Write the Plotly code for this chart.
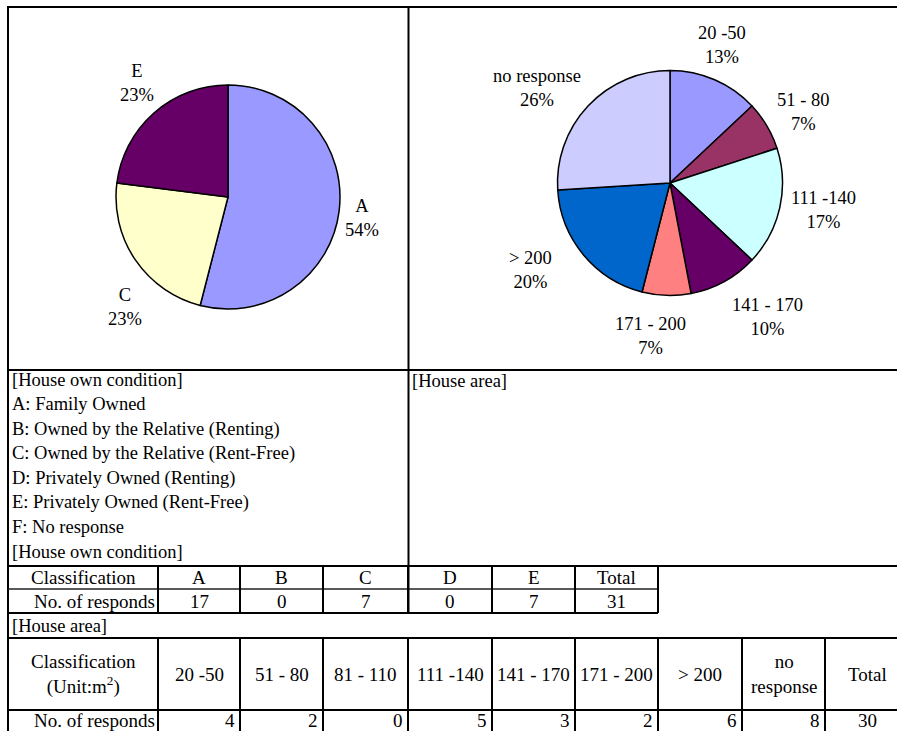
import plotly.graph_objects as go

# ---------------- data ----------------
own_classes = ["A", "B", "C", "D", "E"]
own_counts = [17, 0, 7, 0, 7]
own_total = 31
own_pct = [54, 0, 23, 0, 23]

legend_letters = ["A", "B", "C", "D", "E", "F"]
legend_desc = [
    "Family Owned",
    "Owned by the Relative (Renting)",
    "Owned by the Relative (Rent-Free)",
    "Privately Owned (Renting)",
    "Privately Owned (Rent-Free)",
    "No response",
]

area_classes = ["20 -50", "51 - 80", "81 - 110", "111 -140", "141 - 170",
                "171 - 200", "> 200", "no response"]
area_counts = [4, 2, 0, 5, 3, 2, 6, 8]
area_total = 30
area_pct = [13, 7, 0, 17, 10, 7, 20, 26]

# ---------------- styling ----------------
W, H = 897, 731
FONT = "'Liberation Serif', 'Times New Roman', Times, serif"
TXT = 18.5
TBL = 19
palette = ["#9999FF", "#993366", "#FFFFCC", "#CCFFFF", "#660066",
           "#FF8080", "#0066CC", "#CCCCFF"]

# pie geometry (pixels): centre x, centre y, radius
own_pie = (228, 197, 112)
area_pie = (670, 183, 112.5)
# label offsets from the pie centre (pixels), one per non-empty slice
own_label_off = [(134, 21), (-103, 110), (-91, -114)]
area_label_off = [(52, -138), (133, -71), (153, 27), (97, 134),
                  (-20, 153), (-140, 87), (-133, -95)]

col_edges = [8, 158, 240, 323, 408, 492, 575, 658, 742, 825, 909]


def fx(x):
    return x / W


def fy(y):
    return 1 - y / H


def pie_domain(cx, cy, r):
    return dict(x=[fx(cx - r), fx(cx + r)], y=[fy(cy + r), fy(cy - r)])


fig = go.Figure()
annotations = []
shapes = []


def text(x, y, s, size=TXT, xanchor="center"):
    annotations.append(dict(
        x=fx(x), y=fy(y), xref="paper", yref="paper", text=s,
        showarrow=False, xanchor=xanchor, yanchor="middle", align="center",
        font=dict(family=FONT, size=size, color="black")))


def line(x0, y0, x1, y1, width=2, color="black"):
    shapes.append(dict(type="line", xref="paper", yref="paper",
                       x0=fx(x0), y0=fy(y0), x1=fx(x1), y1=fy(y1),
                       line=dict(color=color, width=width)))


def add_pie(classes, pct, geom, offsets):
    idx = [i for i, p in enumerate(pct) if p > 0]
    labels = [classes[i] for i in idx]
    vals = [pct[i] for i in idx]
    cols = [palette[i] for i in idx]
    fig.add_trace(go.Pie(
        labels=labels, values=vals, sort=False, direction="clockwise",
        rotation=0, textinfo="none", hoverinfo="label+value",
        marker=dict(colors=cols, line=dict(color="black", width=1.5)),
        domain=pie_domain(*geom)))
    cx, cy, _ = geom
    for lab, v, (dx, dy) in zip(labels, vals, offsets):
        text(cx + dx, cy + dy, f"{lab}<br>{v}%")


add_pie(own_classes, own_pct, own_pie, own_label_off)
add_pie(area_classes, area_pct, area_pie, area_label_off)

# ---------------- frame ----------------
line(8, 7, W, 7)            # top
line(8, 6, 8, H)            # left
line(408.5, 7, 408.5, 613)  # centre divider
line(8, 370, W, 370)        # below charts
line(8, 566, W, 566)        # top of first table

# ---------------- legend block ----------------
legend_rows = ["[House own condition]"] + \
    [f"{k}: {d}" for k, d in zip(legend_letters, legend_desc)] + \
    ["[House own condition]"]
for i, s in enumerate(legend_rows):
    text(10, 380 + i * 24.5, s, xanchor="left")
text(410, 381, "[House area]", xanchor="left")

# ---------------- table 1: house own condition ----------------
t1_top, t1_mid, t1_bot = 566, 589, 613
t1_cols = col_edges[:len(own_classes) + 3]
line(8, t1_mid, t1_cols[-1], t1_mid, width=1.5, color="#222")
line(8, t1_bot, t1_cols[-1], t1_bot)
for x in t1_cols[1:]:
    line(x, t1_top, x, t1_bot)
y1 = (t1_top + t1_mid) / 2
y2 = (t1_mid + t1_bot) / 2
text((t1_cols[0] + t1_cols[1]) / 2, y1, "Classification", size=TBL)
text(t1_cols[1] - 1, y2, "No. of responds", size=TBL, xanchor="right")
heads1 = own_classes + ["Total"]
vals1 = own_counts + [own_total]
for j, (h, v) in enumerate(zip(heads1, vals1)):
    xc = (t1_cols[j + 1] + t1_cols[j + 2]) / 2
    text(xc, y1, h, size=TBL)
    text(xc, y2, str(v), size=TBL)

# ---------------- table 2: house area ----------------
text(10, 625.5, "[House area]", xanchor="left")
t2_top, t2_mid = 638, 710
line(8, t2_top, W, t2_top)
line(8, t2_mid, W, t2_mid)
for x in col_edges[1:-1]:
    line(x, t2_top, x, H)
yh = (t2_top + t2_mid) / 2
yv = 720
text((col_edges[0] + col_edges[1]) / 2, yh,
     "Classification<br>(Unit:m<sup>2</sup>)", size=TBL)
text(col_edges[1] - 1, yv, "No. of responds", size=TBL, xanchor="right")
heads2 = [c.replace("no response", "no<br>response") for c in area_classes] + ["Total"]
for j, h in enumerate(heads2):
    x0, x1 = col_edges[j + 1], col_edges[j + 2]
    text((x0 + x1) / 2, yh, h, size=TBL)
for j, v in enumerate(area_counts):
    text(col_edges[j + 2] - 3, yv, str(v), size=TBL, xanchor="right")
text((col_edges[-2] + col_edges[-1]) / 2, yv, str(area_total), size=TBL)

fig.update_layout(
    width=W, height=H, margin=dict(l=0, r=0, t=0, b=0),
    paper_bgcolor="white", plot_bgcolor="white", showlegend=False,
    annotations=annotations, shapes=shapes,
    font=dict(family=FONT, color="black"))

fig.write_html("out.html")
